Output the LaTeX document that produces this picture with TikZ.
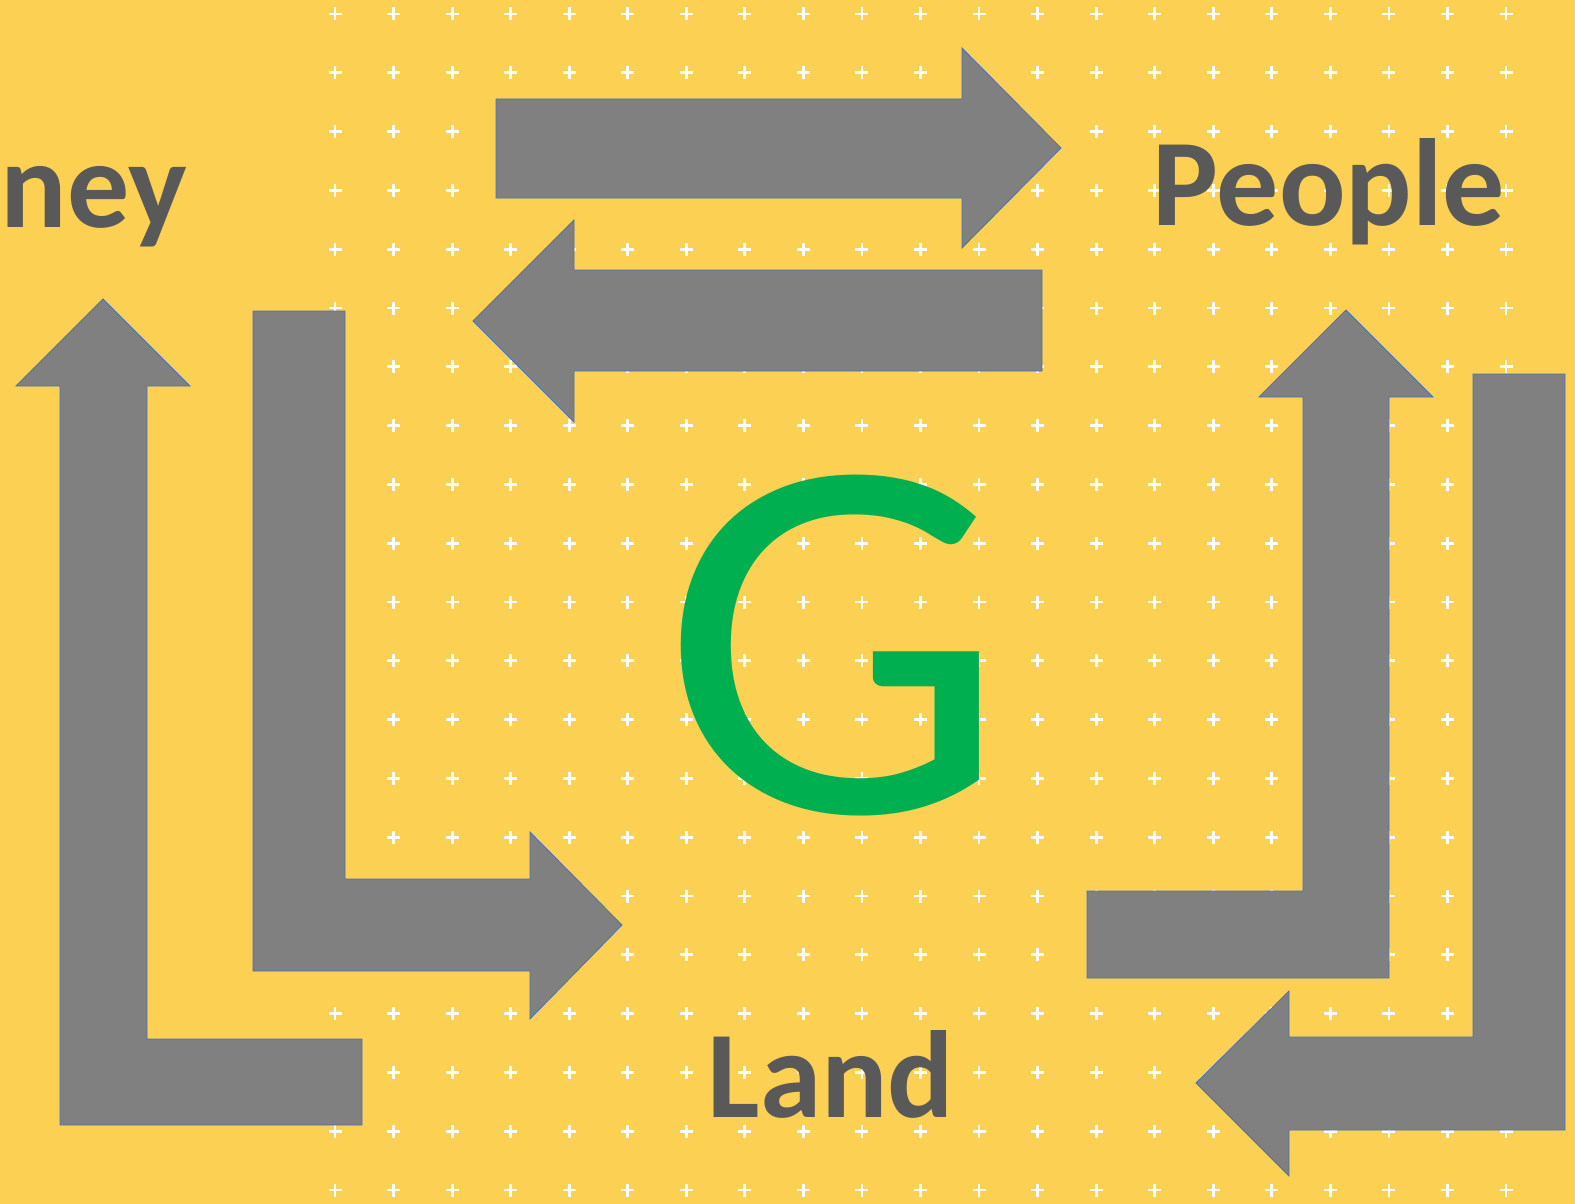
\documentclass[tikz,border=0pt]{standalone}
\usepackage{fontspec}
\setmainfont{Carlito}
\definecolor{bgyellow}{RGB}{252,208,82}
\definecolor{arrowgrey}{RGB}{128,128,128}
\definecolor{edgeblue}{RGB}{68,114,196}
\definecolor{textgrey}{RGB}{89,89,89}
\definecolor{ggreen}{RGB}{0,176,80}
\begin{document}
\begin{tikzpicture}[x=1pt,y=-1pt,
  bigarrow/.style={fill=arrowgrey,draw=edgeblue,line width=0.8pt,line join=miter},
  cross/.style={draw=white,line width=2.8pt},
  label/.style={font=\fontsize{124}{130}\selectfont\bfseries,text=textgrey,inner sep=0pt}]
\useasboundingbox (0,0) rectangle (1575,1204);
\fill[bgyellow] (0,0) rectangle (1575,1204);
% plus pattern
\foreach \i in {0,...,20}{
  \foreach \j in {0,...,20}{
    \pgfmathsetmacro{\cx}{335+\i*58.55}
    \pgfmathsetmacro{\cy}{14+\j*58.8}
    \draw[cross] (\cx-6.5,\cy) -- (\cx+6.5,\cy) (\cx,\cy-6.5) -- (\cx,\cy+6.5);
  }
}
% top arrow, pointing right
\draw[bigarrow] (496,99) -- (962,99) -- (962,48) -- (1061,148) -- (962,248) -- (962,198) -- (496,198) -- cycle;
% second arrow, pointing left
\draw[bigarrow] (1042,270) -- (574,270) -- (574,220) -- (473,321) -- (574,422) -- (574,371) -- (1042,371) -- cycle;
% left outer bent arrow, pointing up
\draw[bigarrow] (16,386) -- (103,299) -- (190,386) -- (147,386) -- (147,1039) -- (362,1039) -- (362,1125) -- (60,1125) -- (60,386) -- cycle;
% left inner bent arrow, pointing right
\draw[bigarrow] (253,311) -- (345,311) -- (345,879) -- (530,879) -- (530,832) -- (622,925) -- (530,1019) -- (530,971) -- (253,971) -- cycle;
% right inner bent arrow, pointing up
\draw[bigarrow] (1259,397) -- (1346,310) -- (1433,397) -- (1389,397) -- (1389,978) -- (1087,978) -- (1087,891) -- (1303,891) -- (1303,397) -- cycle;
% right outer bent arrow, pointing left
\draw[bigarrow] (1473,374) -- (1565,374) -- (1565,1130) -- (1289,1130) -- (1289,1176) -- (1196,1083) -- (1289,991) -- (1289,1037) -- (1473,1037) -- cycle;
% texts
\node[label,anchor=base west] (money) at (0.5,227) {ney};
\node[label,anchor=base] (people) at (1329,225) {People};
\node[label,anchor=base] (land) at (831,1117) {Land};
\node[font=\fontsize{520}{540}\selectfont,text=ggreen,inner sep=0pt,anchor=base,xscale=1.06,transform shape] (g) at (834,812) {G};
\end{tikzpicture}
\end{document}
